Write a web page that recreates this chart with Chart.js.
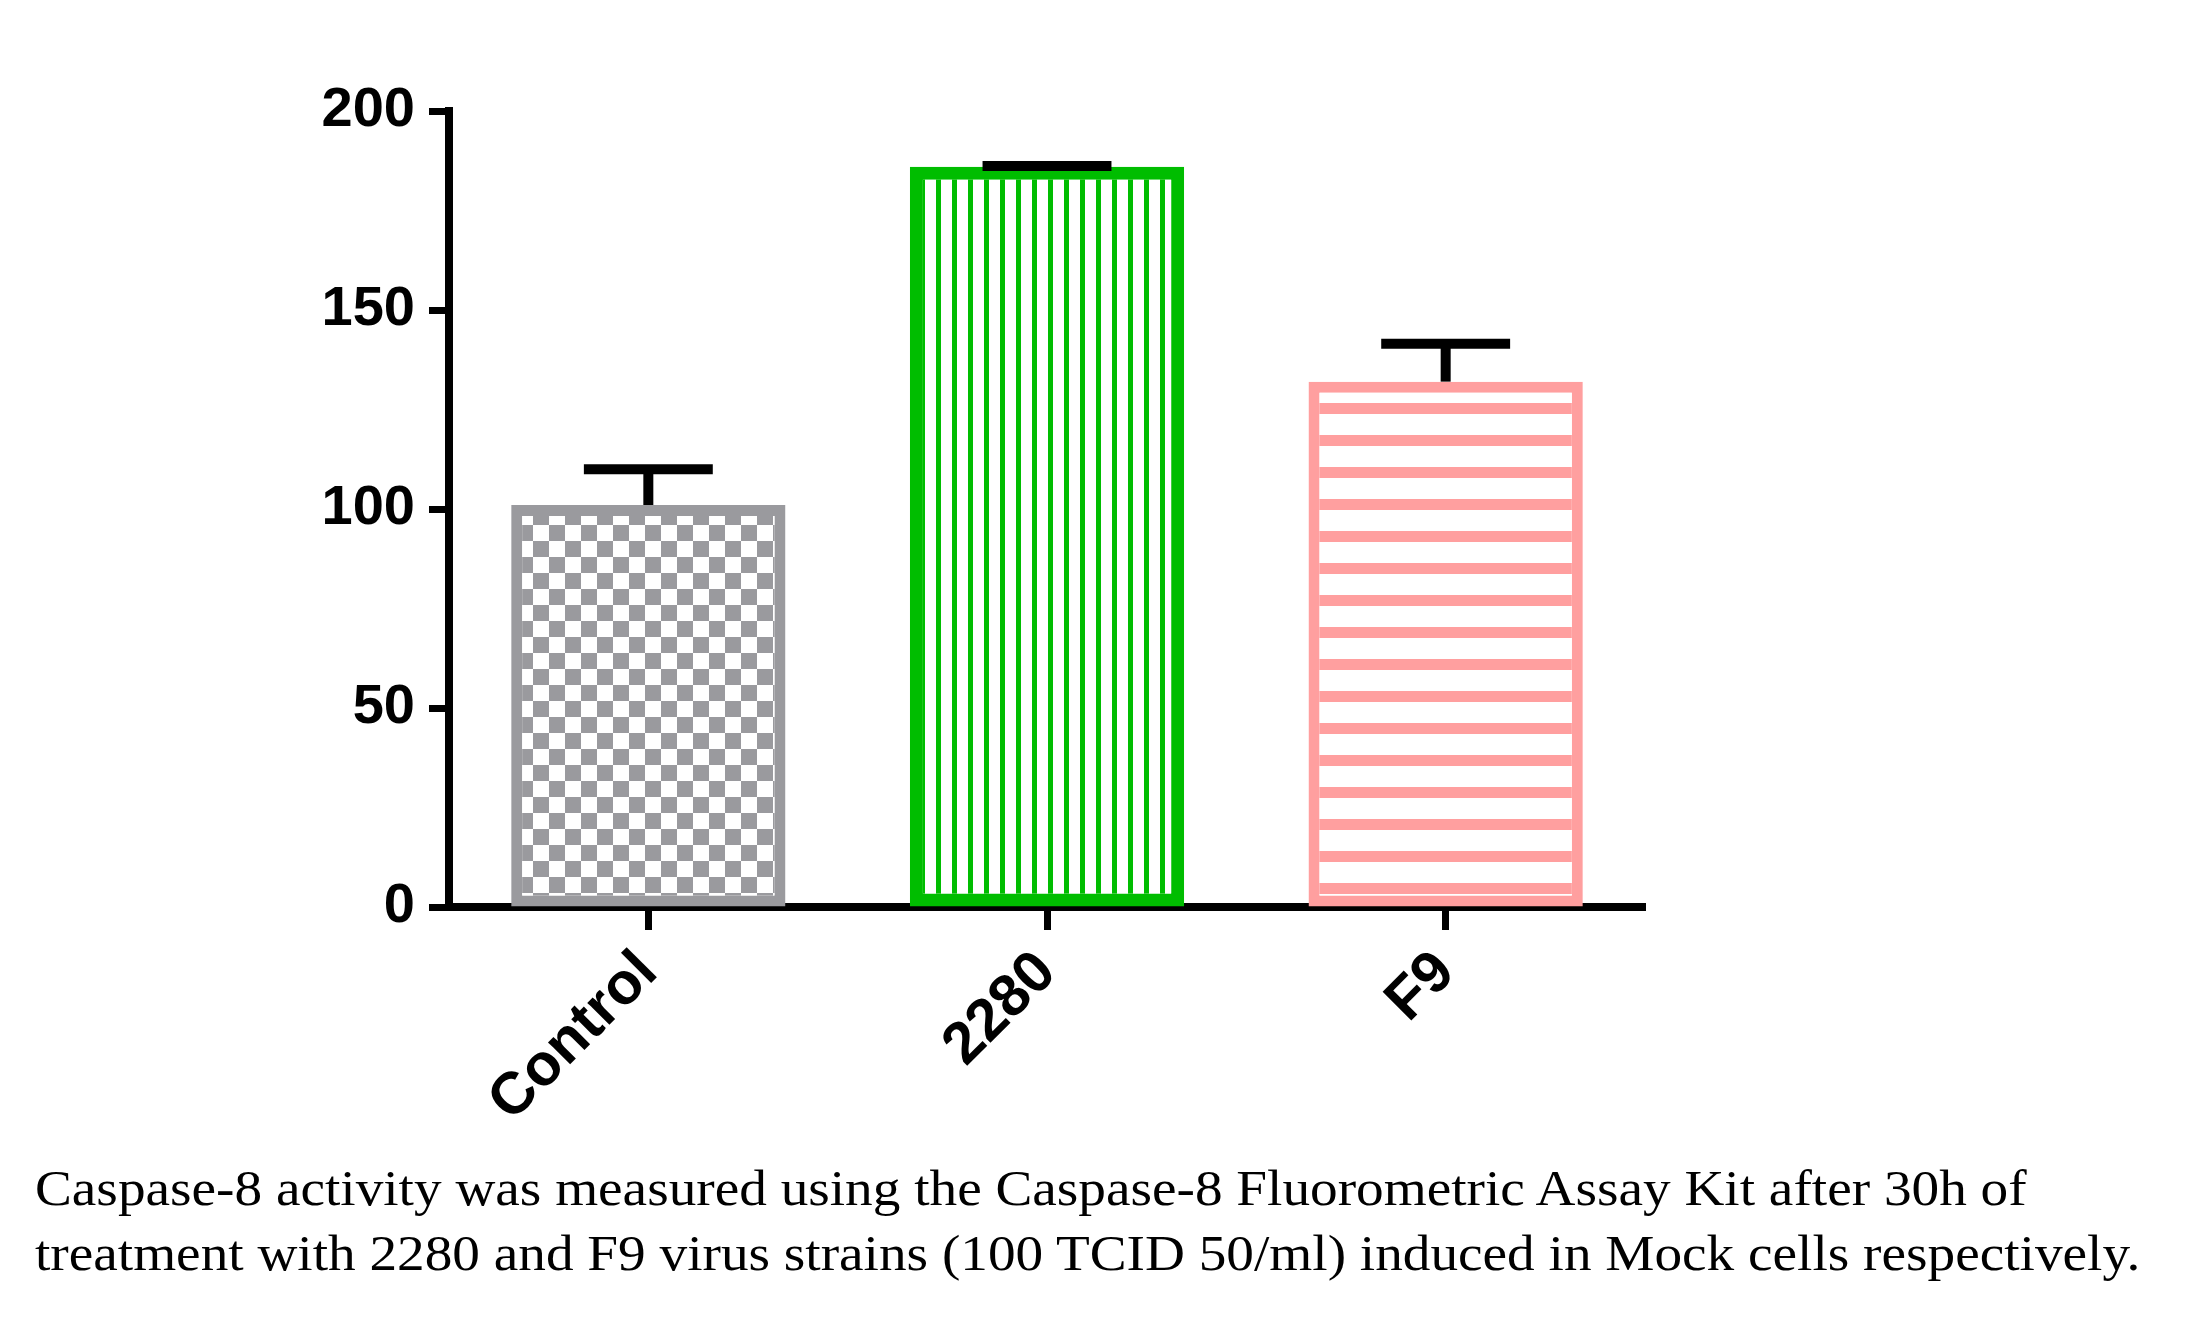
<!DOCTYPE html>
<html>
<head>
<meta charset="utf-8">
<script src="https://cdn.jsdelivr.net/npm/chart.js@4.4.1/dist/chart.umd.min.js"></script>
<style>
  html, body { margin: 0; padding: 0; background: #ffffff; }
  #wrap { position: relative; width: 2200px; height: 1319px; overflow: hidden; background: #fff; }
  #chart { position: absolute; left: 0; top: 0; }
  #caption {
    position: absolute; left: 35px; top: 1156px;
    font-family: "Liberation Serif", "Times New Roman", serif;
    font-size: 50px; line-height: 65px; color: #000; white-space: nowrap;
    transform: scaleX(1.105); transform-origin: 0 0;
  }
</style>
</head>
<body>
<div id="wrap">
  <canvas id="chart" width="2200" height="1319"></canvas>
  <div id="caption">Caspase-8 activity was measured using the Caspase-8 Fluorometric Assay Kit after 30h of<br>treatment with 2280 and F9 virus strains (100 TCID 50/ml) induced in Mock cells respectively.</div>
</div>
<script>
// ---- data ----
const categories = ["Control", "2280", "F9"];
const meanValues = [101, 186, 132];
const errorValues = [9, 0.2, 9.5];
const yTicks = [0, 50, 100, 150, 200];

// ---- styles ----
const grayColor = "#9a9a9e";
const greenColor = "#00bd00";
const pinkColor = "#ff9f9f";

function makeCanvas(w, h) {
  const c = document.createElement("canvas");
  c.width = w; c.height = h;
  return c;
}
const ctx0 = document.getElementById("chart").getContext("2d");

function checkerPattern() {
  const c = makeCanvas(32, 32), g = c.getContext("2d");
  g.fillStyle = "#fff"; g.fillRect(0, 0, 32, 32);
  g.fillStyle = grayColor;
  g.fillRect(0, 0, 16, 16); g.fillRect(16, 16, 16, 16);
  const p = ctx0.createPattern(c, "repeat");
  p.setTransform(new DOMMatrix().translate(5, 13));
  return p;
}
function vStripePattern() {
  const c = makeCanvas(16, 16), g = c.getContext("2d");
  g.fillStyle = "#fff"; g.fillRect(0, 0, 16, 16);
  g.fillStyle = greenColor; g.fillRect(8, 0, 5, 16);
  return ctx0.createPattern(c, "repeat");
}
function hStripePattern() {
  const c = makeCanvas(32, 32), g = c.getContext("2d");
  g.fillStyle = "#fff"; g.fillRect(0, 0, 32, 32);
  g.fillStyle = pinkColor; g.fillRect(0, 19, 32, 11);
  return ctx0.createPattern(c, "repeat");
}

const errorBarPlugin = {
  id: "errorBars",
  afterDatasetsDraw(chart) {
    const ctx = chart.ctx;
    const meta = chart.getDatasetMeta(0);
    const ys = chart.scales.y;
    ctx.save();
    ctx.strokeStyle = "#000";
    ctx.lineCap = "butt";
    meta.data.forEach((bar, i) => {
      const x = bar.x;
      const yMean = ys.getPixelForValue(meanValues[i]);
      const yTop = ys.getPixelForValue(meanValues[i] + errorValues[i]);
      const capHalf = bar.width * 0.235;
      ctx.lineWidth = 10;
      ctx.beginPath(); ctx.moveTo(x, yMean); ctx.lineTo(x, yTop); ctx.stroke();
      ctx.beginPath(); ctx.moveTo(x - capHalf, yTop); ctx.lineTo(x + capHalf, yTop); ctx.stroke();
    });
    ctx.restore();
  }
};

Chart.defaults.font.family = "'Liberation Sans', Arial, sans-serif";
Chart.defaults.color = "#000";

new Chart(ctx0, {
  type: "bar",
  data: {
    labels: categories,
    datasets: [{
      data: meanValues,
      backgroundColor: [checkerPattern(), vStripePattern(), hStripePattern()],
      borderColor: [grayColor, greenColor, pinkColor],
      borderWidth: [11, 13, 11],
      borderSkipped: false,
      barPercentage: 0.688,
      categoryPercentage: 1.0
    }]
  },
  options: {
    responsive: false,
    devicePixelRatio: 1,
    animation: false,
    layout: { padding: { top: 111, right: 555, left: 0, bottom: 0 } },
    plugins: { legend: { display: false }, tooltip: { enabled: false }, title: { display: false } },
    scales: {
      x: {
        offset: true,
        grid: { display: true, drawOnChartArea: false, drawTicks: true, offset: false,
                tickLength: 23, tickWidth: 7, tickColor: "#000" },
        border: { display: true, color: "#000", width: 8 },
        ticks: { font: { size: 59, weight: "bold" }, color: "#000",
                 minRotation: 45, maxRotation: 45, padding: 8 },
        afterFit(s) { s.height = 412; }
      },
      y: {
        min: 0, max: 200,
        afterBuildTicks(s) { s.ticks = yTicks.map(v => ({ value: v })); },
        grid: { display: true, drawOnChartArea: false, drawTicks: true,
                tickLength: 20, tickWidth: 7, tickColor: "#000" },
        border: { display: true, color: "#000", width: 8 },
        ticks: { font: { size: 56, weight: "bold" }, color: "#000", padding: 14 },
        afterFit(s) { s.width = 449; }
      }
    }
  },
  plugins: [errorBarPlugin]
});
</script>
</body>
</html>
